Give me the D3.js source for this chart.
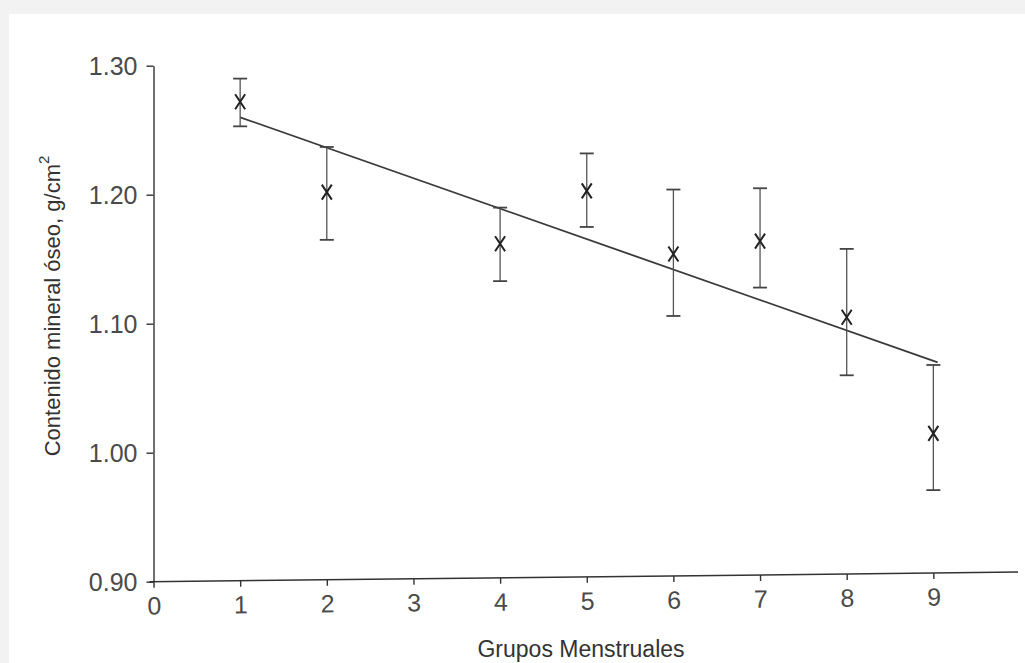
<!DOCTYPE html>
<html>
<head>
<meta charset="utf-8">
<title>Contenido mineral óseo por grupo menstrual</title>
<style>
  body { margin: 0; background: #f2f2f2; }
  svg { display: block; }
  .tick text { font-family: "Liberation Sans", Arial, sans-serif; fill: #4a4a4a; }
</style>
</head>
<body>
<svg width="1025" height="663"></svg>
<script src="https://d3js.org/d3.v7.min.js"></script>
<script>

// data
var groups   = [1, 2, 4, 5, 6, 7, 8, 9];
var means    = [1.272, 1.202, 1.162, 1.203, 1.154, 1.164, 1.105, 1.015];
var upper    = [1.290, 1.237, 1.190, 1.232, 1.204, 1.205, 1.158, 1.068];
var lower    = [1.253, 1.165, 1.133, 1.175, 1.106, 1.128, 1.060, 0.971];
var fitX     = [1, 9.05];
var fitY     = [1.260, 1.070];
var xTicks   = [0, 1, 2, 3, 4, 5, 6, 7, 8, 9];
var yTicks   = [0.90, 1.00, 1.10, 1.20, 1.30];

var svg = d3.select("svg");

// white page of the scan
svg.append("rect")
    .attr("x", 9).attr("y", 14)
    .attr("width", 1016).attr("height", 649)
    .attr("fill", "#fff");

var x = d3.scaleLinear().domain([0, 10]).range([153.5, 1020]);
var y = d3.scaleLinear().domain([0.90, 1.30]).range([581.7, 65.7]);

//y axis
var yAxis = svg.append("g")
    .attr("transform", "translate(" + x(0) + ",0)")
    .call(d3.axisLeft(y).tickValues(yTicks).tickFormat(d3.format(".2f"))
        .tickSize(7).tickSizeOuter(0).tickPadding(9));
yAxis.select(".domain").attr("stroke", "#333").attr("stroke-width", 1.4);
yAxis.selectAll(".tick line").attr("stroke", "#333").attr("stroke-width", 1.4);
yAxis.selectAll(".tick text").attr("font-size", 25).attr("dy", "0.34em");

//x axis, the scan is a little skewed so the axis climbs to the right
var xAxis = svg.append("g")
    .attr("transform", "translate(0," + y(0.90) + ") rotate(-0.64 " + x(0) + " 0)")
    .call(d3.axisBottom(x).tickValues(xTicks).tickFormat(d3.format("d"))
        .tickSize(6).tickSizeOuter(0).tickPadding(9));
xAxis.select(".domain").attr("stroke", "#333").attr("stroke-width", 1.5)
    .attr("d", "M" + (x(0) - 4) + ",0H" + (x(10) - 2));
xAxis.selectAll(".tick line").attr("stroke", "#333").attr("stroke-width", 1.4);
xAxis.selectAll(".tick text").attr("font-size", 25);

//axis titles
svg.append("text")
    .attr("x", 581).attr("y", 657)
    .attr("text-anchor", "middle")
    .attr("font-family", "Liberation Sans, Arial, sans-serif")
    .attr("font-size", 23)
    .attr("fill", "#333")
    .text("Grupos Menstruales");

var yTitle = svg.append("text")
    .attr("transform", "translate(60,306) rotate(-90)")
    .attr("text-anchor", "middle")
    .attr("font-family", "Liberation Sans, Arial, sans-serif")
    .attr("font-size", 22)
    .attr("fill", "#333");
yTitle.append("tspan").text("Contenido mineral óseo, g/cm");
yTitle.append("tspan").attr("font-size", 15).attr("dy", "-0.75em").text("2");

//regression line
svg.append("line")
    .attr("x1", x(fitX[0])).attr("y1", y(fitY[0]))
    .attr("x2", x(fitX[1])).attr("y2", y(fitY[1]))
    .attr("stroke", "#3a3a3a").attr("stroke-width", 1.8);

//error bars
var bars = svg.append("g").selectAll("g")
    .data(groups)
    .enter().append("g");

bars.append("line")
    .attr("x1", d => x(d)).attr("x2", d => x(d))
    .attr("y1", (d, i) => y(upper[i])).attr("y2", (d, i) => y(lower[i]))
    .attr("stroke", "#555").attr("stroke-width", 1.3);

bars.append("line")
    .attr("x1", d => x(d) - 7).attr("x2", d => x(d) + 7)
    .attr("y1", (d, i) => y(upper[i])).attr("y2", (d, i) => y(upper[i]))
    .attr("stroke", "#444").attr("stroke-width", 1.8);

bars.append("line")
    .attr("x1", d => x(d) - 7).attr("x2", d => x(d) + 7)
    .attr("y1", (d, i) => y(lower[i])).attr("y2", (d, i) => y(lower[i]))
    .attr("stroke", "#444").attr("stroke-width", 1.8);

//x markers for the means
bars.append("path")
    .attr("d", (d, i) => {
        var cx = x(d), cy = y(means[i]);
        return "M" + (cx - 5) + "," + (cy - 7.5) + "L" + (cx + 5) + "," + (cy + 7.5) +
               "M" + (cx + 5) + "," + (cy - 7.5) + "L" + (cx - 5) + "," + (cy + 7.5);
    })
    .attr("fill", "none")
    .attr("stroke", "#222").attr("stroke-width", 2);

</script>
</body>
</html>
